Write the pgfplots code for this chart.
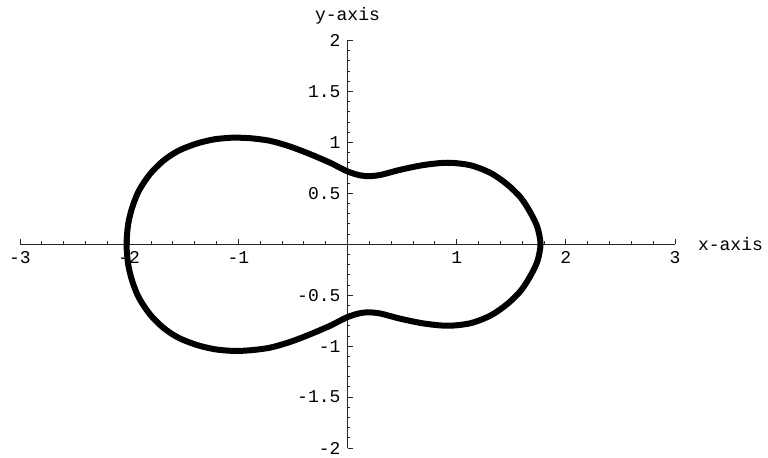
\documentclass[border=0pt]{standalone}
\usepackage{fontspec}
\setmainfont{Liberation Mono}
\usepackage{pgfplots}
\pgfplotsset{compat=1.18}
\begin{document}
\begin{tikzpicture}[font=\fontsize{9}{10}\selectfont]
\begin{axis}[
  scale only axis, width=327.5pt, height=203.75pt,
  xmin=-3, xmax=3, ymin=-2, ymax=2,
  axis lines=middle,
  axis line style={-, line width=0.5pt, black!85},
  xtick={-3,-2,-1,1,2,3}, xticklabels={-3,-2,-1,1,2,3},
  ytick={-2,-1.5,-1,-0.5,0.5,1,1.5,2}, yticklabels={-2,-1.5,-1,-0.5,0.5,1,1.5,2},
  minor xtick={-3,-2.8,...,3}, minor ytick={-2,-1.9,...,2},
  tick align=inside,
  major tick length=2.5pt, minor tick length=1.4pt,
  tick style={black!85, line width=0.4pt},
  xlabel={x-axis}, ylabel={y-axis},
  every axis x label/.style={at={(axis description cs:1,0.5)}, anchor=west, xshift=8pt},
  every axis y label/.style={at={(axis description cs:0.5,1)}, anchor=center, yshift=12.5pt},
  clip=false,
]
\addplot[black, line width=3pt, smooth, line join=round, line cap=round] coordinates {
(-1.046,1.047) (-0.893,1.041) (-0.709,1.015) (-0.526,0.959) (-0.342,0.884) (-0.159,0.80)
(-0.08,0.757) (0,0.715) (0.09,0.683) (0.18,0.668) (0.30,0.68) (0.48,0.73) (0.70,0.778) (0.92,0.80)
(1.126,0.775) (1.31,0.70) (1.46,0.59) (1.585,0.46) (1.676,0.31) (1.74,0.165) (1.768,0)
(1.74,-0.165) (1.676,-0.31) (1.585,-0.46) (1.46,-0.59) (1.31,-0.70) (1.126,-0.775)
(0.92,-0.80) (0.70,-0.778) (0.48,-0.73) (0.30,-0.68) (0.18,-0.668) (0.09,-0.683) (0,-0.715)
(-0.08,-0.757) (-0.159,-0.80) (-0.342,-0.884) (-0.526,-0.959) (-0.709,-1.015) (-0.893,-1.041) (-1.046,-1.047)
(-1.214,-1.031) (-1.382,-0.988) (-1.55,-0.917) (-1.688,-0.819) (-1.810,-0.688) (-1.911,-0.525)
(-1.972,-0.361) (-2.009,-0.198) (-2.024,0) (-2.009,0.198) (-1.972,0.361) (-1.911,0.525)
(-1.810,0.688) (-1.688,0.819) (-1.55,0.917) (-1.382,0.988) (-1.214,1.031) (-1.046,1.047)
};
\coordinate (ll) at (rel axis cs:0,0);
\coordinate (ur) at (rel axis cs:1,1);
\end{axis}
\pgfresetboundingbox
\path[use as bounding box] ([shift={(-10pt,-5pt)}]ll) rectangle ([shift={(46.5pt,20.25pt)}]ur);
\end{tikzpicture}
\end{document}
